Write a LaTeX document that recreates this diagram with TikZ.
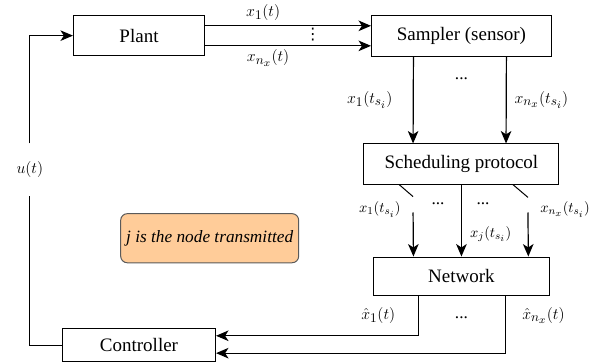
\documentclass[tikz,border=0pt]{standalone}
\usepackage{fontspec}
\setmainfont{Liberation Serif}
\newfontfamily\symfont{DejaVu Sans}
\DeclareMathSizes{13}{13}{10}{8}
\DeclareMathSizes{10.5}{10.5}{8.5}{7}
\definecolor{notebg}{HTML}{FFCC99}
\definecolor{noteline}{HTML}{5A5A5A}
\usepackage{tikz}
\usetikzlibrary{arrows.meta, positioning, calc}
\tikzset{
  blk/.style={draw=black, line width=0.75pt, fill=white, align=center,
              font=\fontsize{14.3}{16}\selectfont, inner sep=2pt},
  notebox/.style={draw=noteline, line width=0.75pt, rounded corners=5pt, fill=notebg,
                  align=center, font=\fontsize{13}{16}\selectfont\itshape},
  arr/.style={-{Stealth[length=3.3mm, width=2.8mm, inset=0.9mm]}, line width=0.9pt},
  wire/.style={line width=0.9pt},
  labl/.style={font=\fontsize{13}{15}\selectfont, inner sep=1pt},
  slabl/.style={font=\fontsize{10.5}{12}\selectfont, inner sep=1pt},
}
\begin{document}
\begin{tikzpicture}

  %% Row 1: plant and sampler
  \node[blk, minimum width=3.47cm, minimum height=1.06cm] (plant) {Plant};
  \node[blk, minimum width=4.76cm, minimum height=1.08cm,
        right=4.39cm of plant] (smp) {Sampler (sensor)};

  \path[use as bounding box] ($(plant.north west)+(-1.93cm,0.40cm)$)
    rectangle ++(15.955cm,-9.631cm);

  \draw[arr] ([yshift=0.26cm]plant.east) -- ([yshift=0.26cm]plant.east -| smp.west)
    node[labl, pos=0.35, above=0.08cm] {$x_1(t)$};
  \draw[arr] ([yshift=-0.27cm]plant.east) -- ([yshift=-0.27cm]plant.east -| smp.west)
    node[labl, pos=0.38, below=0.06cm] {$x_{n_x}(t)$};
  \node[labl, inner sep=0pt, font=\fontsize{12}{12}\selectfont\symfont] (d0)
    at ($(plant.east)!0.65!(plant.east -| smp.west)+(0,0.03cm)$) {⋮};

  %% Column: scheduling and network
  \node[blk, minimum width=5.16cm, minimum height=1.06cm,
        below=2.30cm of smp] (sch) {Scheduling protocol};
  \node[blk, minimum width=4.66cm, minimum height=1.03cm,
        below=1.905cm of sch] (net) {Network};

  \draw[arr] ([xshift=-1.27cm]smp.south) -- ([xshift=-1.28cm]sch.north)
    node[labl, midway, left=0.5cm] {$x_1(t_{s_i})$};
  \draw[arr] ([xshift=1.19cm]smp.south) -- ([xshift=1.18cm]sch.north)
    node[labl, midway, right=0.17cm] {$x_{n_x}(t_{s_i})$};
  \node[labl] (d1) at ([yshift=-0.6cm]smp.south) {...};

  %% Switches
  \coordinate (sw1) at ([xshift=-1.28cm, yshift=-0.74cm]sch.south);
  \coordinate (sw2) at ([xshift=1.76cm, yshift=-0.74cm]sch.south);
  \draw[wire, line width=0.75pt] ([xshift=-1.65cm]sch.south) -- ++(0.37cm,-0.32cm);
  \draw[wire, line width=0.75pt] ([xshift=1.36cm]sch.south) -- ++(0.40cm,-0.34cm);

  \draw[arr] (sw1) -- ([xshift=-1.27cm]net.north);
  \draw[arr] (sw2) -- ([xshift=1.77cm]net.north);
  \draw[arr] (sch.south) -- (net.north)
    node[slabl, pos=0.69, right=0.18cm] {$x_j(t_{s_i})$};

  \node[slabl] (l1) at ([xshift=-2.16cm, yshift=-0.66cm]sch.south) {$x_1(t_{s_i})$};
  \node[slabl] (ln) at ([xshift=2.74cm, yshift=-0.66cm]sch.south) {$x_{n_x}(t_{s_i})$};
  \node[labl] (d2) at ([xshift=-0.62cm, yshift=-0.5cm]sch.south) {...};
  \node[labl] (d3) at ([xshift=0.57cm, yshift=-0.5cm]sch.south) {...};

  %% Controller and feedback
  \node[blk, minimum width=4.05cm, minimum height=0.87cm,
        below=7.2cm of plant] (ctrl) {Controller};
  \node[notebox, minimum width=4.71cm, minimum height=1.30cm,
        above=1.72cm of ctrl, xshift=1.87cm] (note) {j is the node transmitted};

  \draw[arr] ([xshift=-1.14cm]net.south) |- ([yshift=0.25cm]ctrl.east);
  \draw[arr] ([xshift=1.16cm]net.south) |- ([yshift=-0.21cm]ctrl.east);
  \node[labl] (h1) at ([xshift=-2.2cm, yshift=-0.50cm]net.south) {$\hat{x}_1(t)$};
  \node[labl] (d4) at ([yshift=-0.55cm]net.south) {...};
  \node[labl] (hn) at ([xshift=2.17cm, yshift=-0.50cm]net.south) {$\hat{x}_{n_x}(t)$};

  \node[labl, minimum height=1.38cm, inner sep=0pt] (ulab)
    at ([xshift=-1.14cm, yshift=-3.55cm]plant.west) {$u(t)$};
  \draw[wire] (ctrl.west) -| (ulab.south);
  \draw[arr] (ulab.north) |- (plant.west);

\end{tikzpicture}
\end{document}
